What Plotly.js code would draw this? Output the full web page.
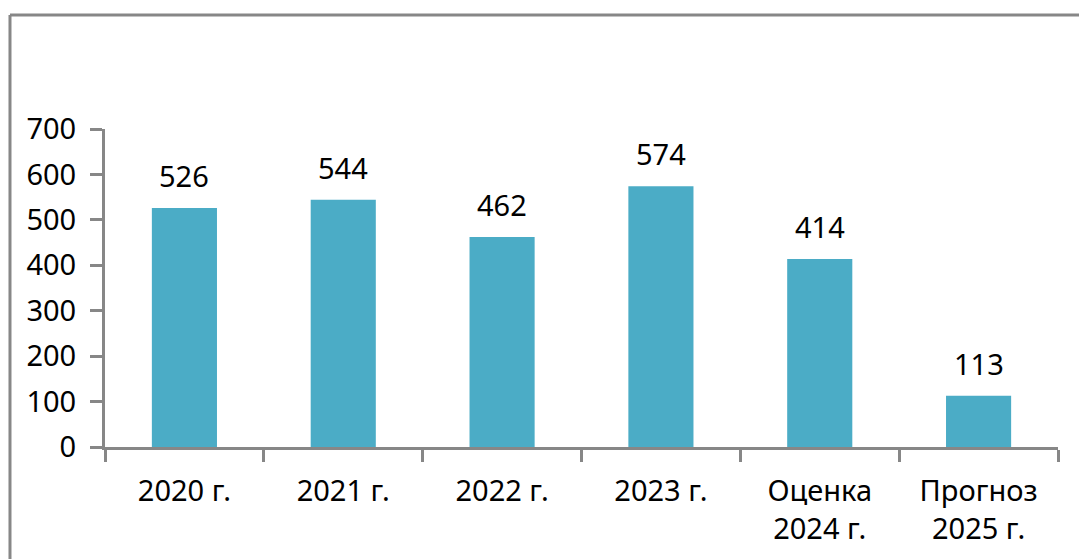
<!DOCTYPE html>
<html>
<head>
<meta charset="utf-8">
<script src="https://cdn.plot.ly/plotly-3.0.1.min.js"></script>
<style>html,body{margin:0;padding:0;background:#fff;}#chart{width:1079px;height:559px;}</style>
</head>
<body>
<div id="chart"></div>
<script>
const categories = ["2020 г.", "2021 г.", "2022 г.", "2023 г.", "Оценка<br>2024 г.", "Прогноз<br>2025 г."];
const values = [526, 544, 462, 574, 414, 113];
const yTicks = [0, 100, 200, 300, 400, 500, 600, 700];

const FONT = "Noto Sans, Open Sans, DejaVu Sans, sans-serif";
const GRAY = "#878787";
const FS = 29;

const trace = {
  type: "bar",
  x: categories,
  y: values,
  marker: {color: "#4BACC6", line: {width: 0}},
  width: 0.41,
  hoverinfo: "x+y"
};

const annotations = categories.map((c, i) => ({
  x: c, y: values[i], xref: "x", yref: "y",
  text: String(values[i]), showarrow: false,
  yanchor: "bottom", yshift: 11,
  font: {family: FONT, size: FS, color: "#000"}
}));

const layout = {
  width: 1079, height: 559,
  margin: {l: 105, r: 21, t: 129, b: 112, pad: 0},
  paper_bgcolor: "#fff", plot_bgcolor: "#fff",
  showlegend: false,
  font: {family: FONT, size: FS, color: "#000"},
  xaxis: {
    type: "category",
    showline: true, linecolor: GRAY, linewidth: 3,
    ticks: "outside", tickson: "boundaries", ticklen: 12, tickwidth: 3, tickcolor: GRAY,
    ticklabelstandoff: 16,
    showgrid: false, zeroline: false,
    tickfont: {family: FONT, size: FS, color: "#000"}
  },
  yaxis: {
    range: [0, 700], tickvals: yTicks, ticktext: yTicks.map(String),
    showline: true, linecolor: GRAY, linewidth: 3,
    ticks: "outside", ticklen: 12, tickwidth: 3, tickcolor: GRAY,
    ticklabelstandoff: 8,
    showgrid: false, zeroline: false,
    tickfont: {family: FONT, size: FS, color: "#000"}
  },
  annotations: annotations,
  shapes: [
    {type: "line", xref: "paper", yref: "paper", x0: -0.0997, x1: 1.05, y0: 1.3585, y1: 1.3585, line: {color: GRAY, width: 3}},
    {type: "line", xref: "paper", yref: "paper", x0: -0.0997, x1: -0.0997, y0: 1.3585, y1: -0.4, line: {color: GRAY, width: 3}}
  ]
};

Plotly.newPlot("chart", [trace], layout, {displayModeBar: false, staticPlot: true});
</script>
</body>
</html>
